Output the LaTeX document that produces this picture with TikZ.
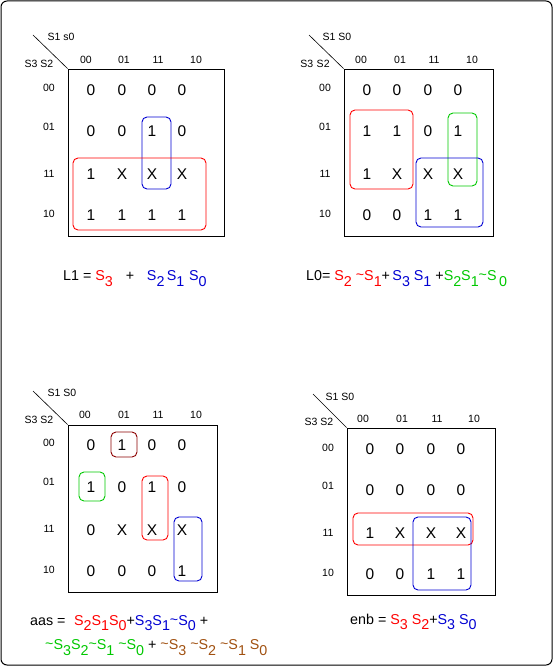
\documentclass[tikz,border=0pt]{standalone}
\usepackage{fontspec}
\setmainfont{Liberation Sans}
\definecolor{kred}{RGB}{255,0,0}
\definecolor{kblue}{RGB}{0,0,210}
\definecolor{kgreen}{RGB}{0,200,0}
\definecolor{kbrown}{RGB}{160,80,16}
\definecolor{kmaroon}{RGB}{140,0,0}
\newcommand\sbs[1]{\raisebox{-5.8pt}{#1}}
\newcommand\St{\raisebox{1pt}{\symbol{"7E}}}
\newcommand\kcells[4]{%
  \foreach \v [count=\i from 0] in {#4} {%
    \pgfmathtruncatemacro\kc{mod(\i,4)}%
    \pgfmathtruncatemacro\kr{div(\i,4)}%
    \pgfmathsetmacro\cx{{#2}[\kc]}%
    \pgfmathsetmacro\cy{{#3}[\kr]}%
    \node[cell] (#1-\kr-\kc) at (\cx,\cy) {\v};
  }}
\newcommand\kheads[5]{% name, col xs, col y, row x, row ys
  \foreach \t [count=\i from 0] in {00,01,11,10} {%
    \pgfmathsetmacro\cx{{#2}[\i]}%
    \node[hdr] (#1-ch\i) at (\cx,#3) {\t};
    \pgfmathsetmacro\cy{{#5}[\i]}%
    \node[hdr] (#1-rh\i) at (#4,\cy) {\t};
  }}
\tikzset{
  cell/.style={font=\fontsize{15.5}{16}\selectfont, inner sep=0pt},
  hdr/.style={font=\fontsize{10.5}{11}\selectfont, inner sep=0pt},
  kbox/.style={draw=black, line width=0.9pt, inner sep=0pt},
  loop/.style={rounded corners=5pt, line width=0.9pt},
  eqn/.style={font=\fontsize{14.3}{15}\selectfont, inner sep=0pt, anchor=base west},
}
\begin{document}
\begin{tikzpicture}[x=1pt,y=-1pt]
\useasboundingbox (0,0) rectangle (553,666);
\draw[rounded corners=6pt, line width=1pt] (1,1) rectangle (552,665);

% ---------- top-left: L1 ----------
\node[kbox, minimum width=156pt, minimum height=167pt] (tlbox) at (146,152.5) {};
\kheads{tl}{86,124,158,196}{60}{49}{88,127,174,214}
\node[hdr] (tl-s32) at (39,64) {S3 S2};
\node[hdr] (tl-s10) at (61,37) {S1 s0};
\coordinate (tl-d) at (33,35);
\draw[line width=0.6pt] (tl-d) -- (tlbox.north west);
\kcells{tl}{91,122,152,182}{90,131,174,215}{0,0,0,0,0,0,1,0,1,X,X,X,1,1,1,1}
\draw[loop, kblue] (142,117) rectangle (171,189);
\draw[loop, kred] (73,158) rectangle (206,230);
\node[eqn] (tl-eq) at (63,280.7) {L1 = \textcolor{kred}{S\sbs{3}}\hspace{0.9em}+\hspace{0.9em}\textcolor{kblue}{S\sbs{2}\,S\sbs{1}\,\,S\sbs{0}}};

% ---------- top-right: L0 ----------
\node[kbox, minimum width=149pt, minimum height=167pt] (trbox) at (418.5,152.5) {};
\kheads{tr}{361,400,434,472}{60}{325}{88,127,174,214}
\node[hdr] (tr-s32) at (315,64) {S3\,\,S2};
\node[hdr] (tr-s10) at (337,37) {S1 S0};
\coordinate (tr-d) at (309,35);
\draw[line width=0.6pt] (tr-d) -- (trbox.north west);
\kcells{tr}{367,397,428,458}{90,131,174,215}{0,0,0,0,1,1,0,1,1,X,X,X,0,0,1,1}
\draw[loop, kred] (350,110) rectangle (413,189);
\draw[loop, kgreen] (448,113) rectangle (477,186);
\draw[loop, kblue] (416,158) rectangle (483,227);
\node[eqn] (tr-eq) at (306,280.7) {L0= \textcolor{kred}{S\sbs{2} \St S\sbs{1}}+\,\textcolor{kblue}{S\sbs{3} S\sbs{1}} +\textcolor{kgreen}{S\sbs{2}S\sbs{1}\St S\sbs{\,0}}};

% ---------- bottom-left: aas ----------
\node[kbox, minimum width=149pt, minimum height=167pt] (blbox) at (142.5,508.5) {};
\kheads{bl}{85,124,158,196}{415}{49}{443,482,529,570}
\node[hdr] (bl-s32) at (39,420) {S3 S2};
\node[hdr] (bl-s10) at (62,393) {S1 S0};
\coordinate (bl-d) at (33,391);
\draw[line width=0.6pt] (bl-d) -- (blbox.north west);
\kcells{bl}{91,122,152,182}{445,487,530,571}{0,1,0,0,1,0,1,0,0,X,X,X,0,0,0,1}
\draw[loop, kmaroon] (111,432) rectangle (137,457);
\draw[loop, kgreen] (79,472) rectangle (105,501);
\draw[loop, kred] (142,476) rectangle (168,540);
\draw[loop, kblue] (174,517) rectangle (202,581);
\node[eqn] (bl-eq1) at (30,625) {aas =\hspace{0.6em}\textcolor{kred}{S\sbs{2}S\sbs{1}S\sbs{0}}+\textcolor{kblue}{S\sbs{3}S\sbs{1}\St S\sbs{0}} +};
\node[eqn] (bl-eq2) at (45,649.3) {\textcolor{kgreen}{\St S\sbs{3}S\sbs{2}\St S\sbs{1} \St S\sbs{0}} + \textcolor{kbrown}{\St S\sbs{3} \St S\sbs{2} \St S\sbs{1} S\sbs{0}}};

% ---------- bottom-right: enb ----------
\node[kbox, minimum width=148pt, minimum height=167pt] (brbox) at (421,511.5) {};
\kheads{br}{363,402,437,474}{419}{328}{448,486,533,573}
\node[hdr] (br-s32) at (319,422) {S3 S2};
\node[hdr] (br-s10) at (340,397) {S1 S0};
\coordinate (br-d) at (313,394);
\draw[line width=0.6pt] (br-d) -- (brbox.north west);
\kcells{br}{370,400,431,461}{449,490,533,574}{0,0,0,0,0,0,0,0,1,X,X,X,0,0,1,1}
\draw[loop, kred] (353,513) rectangle (473,545);
\draw[loop, kblue] (413,517) rectangle (471,590);
\node[eqn] (br-eq) at (350,624) {enb = \textcolor{kred}{S\sbs{3} S\sbs{2}}+\textcolor{kblue}{S\sbs{3} S\sbs{0}}};
\end{tikzpicture}
\end{document}
